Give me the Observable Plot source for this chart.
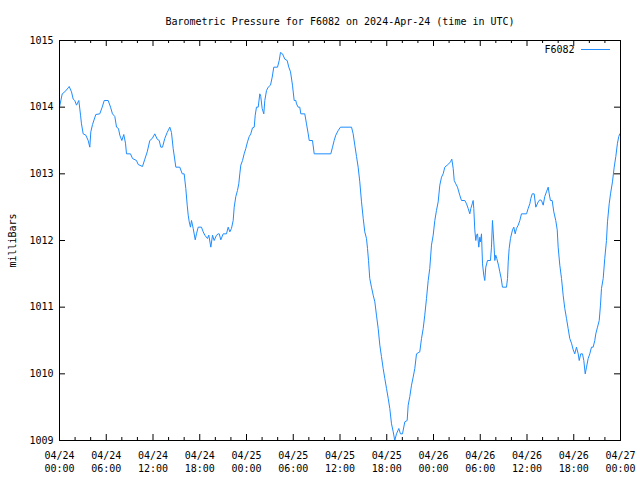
<!DOCTYPE html>
<html>
<head>
<meta charset="utf-8">
<script src="https://cdn.jsdelivr.net/npm/d3@7"></script>
<script src="https://cdn.jsdelivr.net/npm/@observablehq/plot@0.6"></script>
<style>
  html, body { margin: 0; padding: 0; background: white; }
  #chart { position: relative; width: 640px; height: 480px; }
</style>
</head>
<body>
<div id="chart"></div>
<script>
// ---- data (hours since 2024-04-24 00:00 UTC, pressure in mbar) ----
const titleText = "Barometric Pressure for F6082 on 2024-Apr-24 (time in UTC)";
const yLabel = "milliBars";
const seriesName = "F6082";
const startUTC = Date.UTC(2024, 3, 24, 0, 0);
const endUTC = Date.UTC(2024, 3, 27, 0, 0);

const hours = [
  0.00, 0.35, 0.68, 1.12, 1.24, 1.54, 1.76, 1.96, 2.18, 2.48, 2.70, 2.82, 3.04, 3.38, 3.68, 3.89,
  4.02, 4.24, 4.66, 5.17, 5.48, 5.74, 6.25, 6.55, 6.80, 7.10, 7.32, 7.57, 7.74, 8.00, 8.25, 8.47,
  8.60, 9.11, 9.37, 9.88, 10.10, 10.65, 10.95, 11.26, 11.59, 11.90, 12.23, 12.54, 12.80, 13.00,
  13.22, 13.51, 13.82, 14.16, 14.37, 14.59, 14.93, 15.44, 15.75, 16.00, 16.21, 16.39, 16.52,
  16.65, 16.81, 16.94, 17.16, 17.42, 17.58, 17.80, 18.22, 18.44, 18.65, 18.99, 19.16, 19.42,
  19.64, 19.85, 20.15, 20.37, 20.50, 20.70, 21.01, 21.43, 21.65, 21.86, 22.07, 22.29, 22.42,
  22.63, 22.84, 23.01, 23.14, 23.27, 23.49, 23.70, 23.91, 24.13, 24.35, 24.55, 24.77, 24.99,
  25.12, 25.28, 25.50, 25.71, 25.83, 26.01, 26.22, 26.35, 26.57, 26.78, 27.08, 27.30, 27.50,
  27.98, 28.20, 28.36, 28.62, 28.92, 29.22, 29.43, 29.65, 29.90, 30.12, 30.33, 30.42, 30.63,
  30.84, 30.97, 31.48, 31.70, 31.92, 32.05, 32.47, 32.69, 34.82, 35.04, 35.25, 35.46, 35.77,
  36.06, 37.48, 37.69, 37.90, 38.12, 38.33, 38.54, 38.76, 38.98, 39.18, 39.40, 39.53, 39.66,
  39.82, 40.04, 40.26, 40.47, 40.68, 40.90, 41.11, 41.32, 41.54, 41.75, 41.97, 42.19, 42.39,
  42.61, 42.83, 43.03, 43.25, 43.55, 43.76, 44.02, 44.32, 44.62, 44.75, 44.96, 45.18, 45.39,
  45.60, 45.82, 46.24, 46.46, 46.68, 46.88, 47.10, 47.32, 47.52, 47.74, 47.96, 48.17, 48.38,
  48.60, 48.81, 49.03, 49.24, 49.45, 49.76, 49.96, 50.18, 50.35, 50.53, 50.66, 50.86, 51.08,
  51.37, 51.59, 52.02, 52.24, 52.45, 52.66, 52.79, 52.97, 53.09, 53.17, 53.30, 53.43, 53.52,
  53.65, 53.81, 53.94, 54.03, 54.16, 54.29, 54.45, 54.58, 54.71, 54.93, 55.31, 55.44, 55.57,
  55.74, 55.87, 55.99, 56.12, 56.34, 56.51, 56.69, 56.85, 57.37, 57.50, 57.59, 57.71, 57.88,
  58.14, 58.31, 58.48, 58.65, 58.87, 59.08, 59.29, 59.94, 60.15, 60.36, 60.49, 60.67, 60.92,
  61.13, 61.44, 61.64, 61.86, 62.08, 62.28, 62.50, 62.72, 62.85, 63.01, 63.23, 63.44, 63.69,
  63.88, 64.00, 64.21, 64.43, 64.64, 64.85, 65.07, 65.28, 65.49, 65.71, 65.93, 66.13, 66.35,
  66.57, 66.70, 66.90, 67.12, 67.29, 67.47, 67.64, 67.85, 68.06, 68.28, 68.49, 68.70, 68.83,
  69.05, 69.27, 69.43, 69.56, 69.78, 69.98, 70.20, 70.33, 70.55, 70.72, 70.97, 71.19, 71.40,
  71.61, 71.78, 71.91
];

const pressure = [
  1014.00, 1014.20, 1014.23, 1014.29, 1014.31, 1014.23, 1014.12, 1014.10, 1014.03, 1014.10, 1013.88, 1013.75, 1013.60, 1013.58, 1013.50, 1013.40,
  1013.63, 1013.74, 1013.89, 1013.90, 1014.00, 1014.10, 1014.10, 1014.00, 1013.90, 1013.86, 1013.70, 1013.68, 1013.58, 1013.50, 1013.59, 1013.46,
  1013.30, 1013.30, 1013.23, 1013.20, 1013.14, 1013.11, 1013.22, 1013.33, 1013.50, 1013.53, 1013.60, 1013.52, 1013.50, 1013.40,
  1013.40, 1013.53, 1013.62, 1013.70, 1013.62, 1013.38, 1013.10, 1013.10, 1013.00, 1013.00, 1012.78, 1012.53, 1012.38,
  1012.28, 1012.20, 1012.30, 1012.18, 1012.01, 1012.10, 1012.20, 1012.20, 1012.13, 1012.08, 1012.03, 1012.08, 1011.90,
  1012.08, 1012.00, 1012.08, 1012.10, 1012.10, 1012.01, 1012.10, 1012.10, 1012.20, 1012.13, 1012.18, 1012.30, 1012.50,
  1012.66, 1012.75, 1012.85, 1013.00, 1013.13, 1013.20, 1013.30, 1013.38, 1013.48, 1013.56, 1013.60, 1013.69, 1013.70,
  1013.88, 1014.00, 1014.00, 1014.20, 1014.16, 1013.98, 1013.90, 1014.10, 1014.25, 1014.30, 1014.33, 1014.45, 1014.60,
  1014.60, 1014.70, 1014.82, 1014.80, 1014.72, 1014.70, 1014.60, 1014.53, 1014.33, 1014.10, 1014.10, 1014.05, 1014.00,
  1014.00, 1013.90, 1013.90, 1013.75, 1013.60, 1013.50, 1013.50, 1013.30, 1013.30, 1013.40, 1013.50, 1013.58, 1013.65,
  1013.70, 1013.70, 1013.60, 1013.43, 1013.26, 1013.10, 1012.88, 1012.58, 1012.33, 1012.13, 1012.03, 1011.88, 1011.70,
  1011.43, 1011.30, 1011.18, 1011.08, 1010.88, 1010.68, 1010.43, 1010.26, 1010.08, 1009.93, 1009.78, 1009.63, 1009.48,
  1009.25, 1009.13, 1009.00, 1009.10, 1009.18, 1009.10, 1009.10, 1009.28, 1009.30, 1009.53, 1009.66, 1009.83, 1009.95,
  1010.08, 1010.30, 1010.33, 1010.53, 1010.68, 1010.88, 1011.13, 1011.40, 1011.58, 1011.93, 1012.08, 1012.30, 1012.45,
  1012.58, 1012.83, 1012.95, 1013.00, 1013.10, 1013.13, 1013.15, 1013.18, 1013.22, 1013.08, 1012.90, 1012.85, 1012.80,
  1012.68, 1012.60, 1012.60, 1012.55, 1012.48, 1012.40, 1012.48, 1012.55, 1012.60, 1012.48, 1012.16, 1012.00, 1012.08,
  1012.10, 1011.90, 1012.05, 1011.98, 1012.10, 1011.65, 1011.48, 1011.40, 1011.60, 1011.70, 1011.70, 1011.90, 1012.30,
  1011.98, 1011.70, 1011.78, 1011.73, 1011.63, 1011.53, 1011.43, 1011.30, 1011.30, 1011.43, 1011.68, 1011.88, 1012.03,
  1012.16, 1012.20, 1012.10, 1012.18, 1012.23, 1012.30, 1012.40, 1012.40, 1012.48, 1012.55, 1012.63, 1012.70, 1012.70,
  1012.50, 1012.58, 1012.61, 1012.60, 1012.53, 1012.66, 1012.73, 1012.80, 1012.70, 1012.60, 1012.60, 1012.43, 1012.30,
  1012.16, 1011.90, 1011.63, 1011.43, 1011.18, 1010.98, 1010.83, 1010.68, 1010.53, 1010.46, 1010.36, 1010.30, 1010.40,
  1010.30, 1010.20, 1010.30, 1010.30, 1010.20, 1010.00, 1010.10, 1010.23, 1010.30, 1010.40, 1010.40, 1010.50, 1010.60,
  1010.70, 1010.80, 1011.03, 1011.28, 1011.43, 1011.73, 1012.00, 1012.28, 1012.55, 1012.70, 1012.88, 1013.10, 1013.26,
  1013.46, 1013.56, 1013.60
];

const majorTickHours = [0, 6, 12, 18, 24, 30, 36, 42, 48, 54, 60, 66, 72];
const minorTickHours = [2, 4, 8, 10, 14, 16, 20, 22, 26, 28, 32, 34, 38, 40, 44, 46, 50, 52, 56, 58, 62, 64, 68, 70];
const yTicks = [1009, 1010, 1011, 1012, 1013, 1014, 1015];

// ---- build ----
const toDate = h => new Date(startUTC + h * 3600 * 1000);
const data = hours.map((h, i) => ({time: toDate(h), value: pressure[i]}));
const majorTicks = majorTickHours.map(toDate);
const minorTicks = minorTickHours.map(toDate);

const W = 640, H = 480;
const mL = 59, mR = 20, mT = 40, mB = 40;
const fw = W - mL - mR, fh = H - mT - mB;
const lineColor = "#1e8cff";
const fmt = d3.utcFormat("%m/%d\n%H:%M");

const chart = Plot.plot({
  width: W,
  height: H,
  marginLeft: mL,
  marginRight: mR,
  marginTop: mT,
  marginBottom: mB,
  style: {fontFamily: "'DejaVu Sans Mono', monospace", fontSize: "10px", background: "white", color: "black"},
  x: {type: "utc", domain: [new Date(startUTC), new Date(endUTC)], label: null},
  y: {domain: [1009, 1015], label: null},
  marks: [
    Plot.line(data, {x: "time", y: "value", stroke: lineColor, strokeWidth: 1}),
    Plot.frame({stroke: "black", strokeWidth: 1}),
    // inward ticks, bottom & top
    Plot.tickX(majorTicks, {x: d => d, insetTop: fh - 6, stroke: "black"}),
    Plot.tickX(majorTicks, {x: d => d, insetBottom: fh - 6, stroke: "black"}),
    Plot.tickX(minorTicks, {x: d => d, insetTop: fh - 3, stroke: "black"}),
    Plot.tickX(minorTicks, {x: d => d, insetBottom: fh - 3, stroke: "black"}),
    // inward ticks, left & right
    Plot.tickY(yTicks, {y: d => d, insetRight: fw - 6, stroke: "black"}),
    Plot.tickY(yTicks, {y: d => d, insetLeft: fw - 6, stroke: "black"}),
    Plot.axisX({ticks: majorTicks, tickSize: 0, tickPadding: 10, tickFormat: fmt, lineHeight: 1.25, label: null}),
    Plot.axisY({ticks: yTicks, tickSize: 0, tickPadding: 6, tickFormat: d => String(d), label: null}),
    Plot.text([titleText], {text: d => d, frameAnchor: "top", dy: -23, fontSize: 10}),
    Plot.text([yLabel], {text: d => d, frameAnchor: "left", textAnchor: "middle", lineAnchor: "middle", rotate: -90, dx: -47, fontSize: 10}),
    Plot.text([seriesName], {text: d => d, frameAnchor: "top-right", textAnchor: "end", lineAnchor: "middle", dx: -46, dy: 9, fontSize: 10})
  ]
});

// legend line sample
d3.select(chart).append("line")
  .attr("x1", W - mR - 39).attr("x2", W - mR - 10)
  .attr("y1", mT + 9.5).attr("y2", mT + 9.5)
  .attr("stroke", lineColor).attr("stroke-width", 1);

document.getElementById("chart").appendChild(chart);
</script>
</body>
</html>
